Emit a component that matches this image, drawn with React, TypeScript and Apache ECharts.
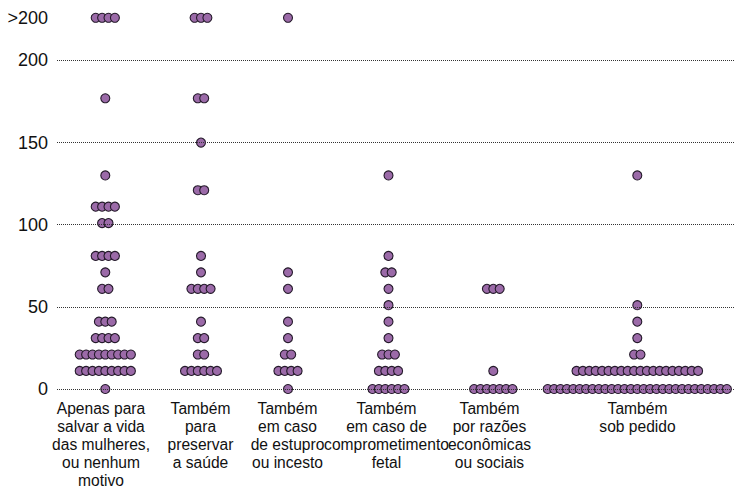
import React, { useEffect, useRef } from "react";
import * as echarts from "echarts";

// Category labels (x axis)
const categories = [
  "Apenas para\nsalvar a vida\ndas mulheres,\nou nenhum\nmotivo",
  "Também\npara\npreservar\na saúde",
  "Também\nem caso\nde estupro\nou incesto",
  "Também\nem caso de\ncomprometimento\nfetal",
  "Também\npor razões\neconômicas\nou sociais",
  "Também\nsob pedido",
];

// y tick values and the plotted position of the ">200" row
const OVER = 226;
const yTicks = [0, 50, 100, 150, 200];
const yTickLabels = ["0", "50", "100", "150", "200"];
const overLabel = ">200";

// Each row: [value, number of dots]
const cat1Rows: [number, number][] = [
  [0, 1], [11, 9], [21, 9], [31, 4], [41, 3], [61, 2], [71, 1], [81, 4],
  [101, 2], [111, 4], [130, 1], [177, 1], [OVER, 4],
];
const cat2Rows: [number, number][] = [
  [11, 6], [21, 2], [31, 2], [41, 1], [61, 4], [71, 1], [81, 1],
  [121, 2], [150, 1], [177, 2], [OVER, 3],
];
const cat3Rows: [number, number][] = [
  [0, 1], [11, 4], [21, 2], [31, 1], [41, 1], [61, 1], [71, 1], [OVER, 1],
];
const cat4Rows: [number, number][] = [
  [0, 6], [11, 4], [21, 3], [31, 1], [41, 1], [51, 1], [61, 1], [71, 2],
  [81, 1], [130, 1],
];
const cat5Rows: [number, number][] = [
  [0, 7], [11, 1], [61, 3],
];
const cat6Rows: [number, number][] = [
  [0, 29], [11, 20], [21, 2], [31, 1], [41, 1], [51, 1], [130, 1],
];

const allRows = [cat1Rows, cat2Rows, cat3Rows, cat4Rows, cat5Rows, cat6Rows];

// Layout (x axis units = pixels inside the grid)
const dotCenters = [48.3, 144, 231, 331.5, 436.3, 580.3];
const labelCenters = [44, 143.5, 230.5, 329.5, 432.5, 580.5];
const DOT_STEP = 6.4;
const FONT = "'Liberation Sans', Arial, sans-serif";

export default function App() {
  const ref = useRef<HTMLDivElement>(null);

  useEffect(() => {
    if (!ref.current) return;
    const chart = echarts.init(ref.current, undefined, { renderer: "svg" });

    const points: number[][] = [];
    allRows.forEach((rows, ci) => {
      rows.forEach(([v, n]) => {
        for (let i = 0; i < n; i++) {
          points.push([dotCenters[ci] + (i - (n - 1) / 2) * DOT_STEP, v]);
        }
      });
    });

    chart.setOption({
      animation: false,
      grid: { left: 57, right: 0, top: 11.2, bottom: 98.3, containLabel: false },
      xAxis: {
        type: "value",
        min: 0,
        max: 677,
        axisLine: { show: false },
        axisTick: { show: false },
        splitLine: { show: false },
        axisLabel: {
          customValues: labelCenters,
          formatter: (val: number) => {
            let best = 0;
            let bd = Infinity;
            labelCenters.forEach((c, i) => {
              const d = Math.abs(c - val);
              if (d < bd) { bd = d; best = i; }
            });
            return categories[best];
          },
          margin: 10,
          fontSize: 15.6,
          lineHeight: 18,
          color: "#111",
          fontFamily: FONT,
          align: "center",
        },
      },
      yAxis: {
        type: "value",
        min: 0,
        max: 230,
        axisLine: { show: false },
        axisTick: { show: false },
        splitLine: { show: false },
        axisLabel: {
          customValues: [...yTicks, OVER],
          formatter: (val: number) => {
            if (Math.abs(val - OVER) < 0.5) return overLabel;
            const idx = yTicks.indexOf(val);
            return idx >= 0 ? yTickLabels[idx] : "";
          },
          margin: 9,
          fontSize: 18,
          color: "#111",
          fontFamily: FONT,
        },
      },
      series: [
        {
          type: "scatter",
          data: [],
          z: 1,
          silent: true,
          markLine: {
            silent: true,
            symbol: "none",
            label: { show: false },
            lineStyle: { type: "dotted", color: "#333", width: 1 },
            emphasis: { disabled: true },
            data: yTicks.map((v) => ({ yAxis: v })),
          },
        },
        {
          type: "scatter",
          z: 3,
          symbol: "circle",
          symbolSize: 9,
          data: points,
          silent: true,
          itemStyle: {
            color: "#9b6aa8",
            borderColor: "#241a2a",
            borderWidth: 1.1,
            opacity: 1,
          },
          emphasis: { disabled: true },
        },
      ],
    });

    return () => chart.dispose();
  }, []);

  return (
    <div
      ref={ref}
      style={{ position: "absolute", left: 0, top: 0, width: 734, height: 489 }}
    />
  );
}
